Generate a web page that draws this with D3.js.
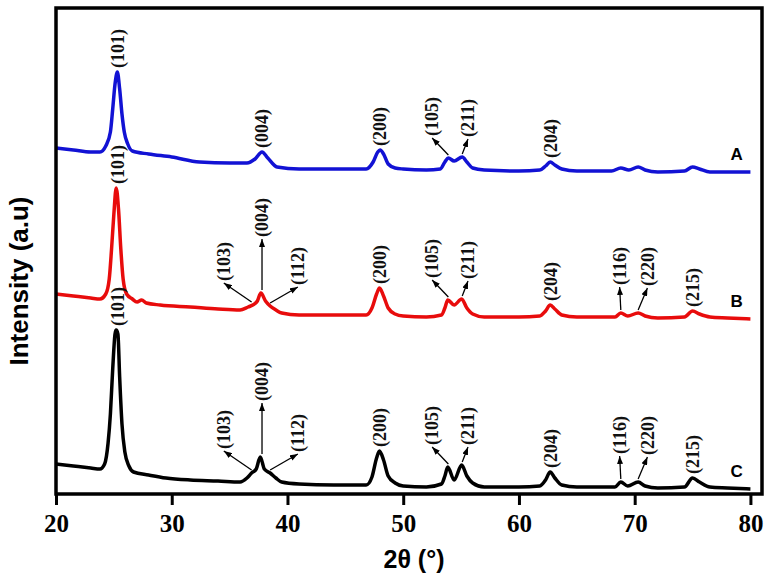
<!DOCTYPE html>
<html>
<head>
<meta charset="utf-8">
<script src="https://cdn.jsdelivr.net/npm/d3@7"></script>
<style>
body { margin: 0; background: #fff; }
svg { display: block; }
</style>
</head>
<body>
<svg id="chart" width="768" height="577"></svg>
<script>
// sample A (blue) - 2theta / intensity (a.u., offset stacked)
const thetaA = [20, 21.5, 23, 23.8, 24.3, 24.7, 24.9, 25.1, 25.3, 25.5, 25.7, 25.9, 26.2, 26.6, 28, 30, 32.4, 35, 36.5, 37.2, 37.8, 38.3, 39.1, 41, 44, 46.8, 47.4, 47.8, 48.0, 48.3, 48.7, 49.3, 50, 52, 53.2, 53.6, 53.9, 54.4, 55.1, 55.5, 56.0, 57, 60, 61.8, 62.3, 62.7, 63.1, 63.7, 65, 68, 68.8, 69.5, 70.3, 70.9, 72, 74.3, 75.0, 75.6, 76.5, 78, 80]
const intA = [346, 344, 342, 342, 348, 362, 385, 410, 422, 405, 380, 362, 350, 343, 340, 337, 332, 331, 331, 335, 342, 336, 327, 325, 325, 325, 332, 342, 344, 340, 330, 326, 325, 324, 325, 332, 336, 333, 337, 332, 326, 324, 323, 324, 328, 332, 329, 325, 323, 323, 326, 324, 327, 324, 322, 323, 327, 325, 322, 322, 322]

// sample B (red)
const thetaB = [20, 21.5, 23, 23.8, 24.3, 24.6, 24.8, 25.0, 25.2, 25.4, 25.6, 25.8, 26.1, 26.6, 27.0, 27.4, 27.8, 29, 31.6, 34, 35.9, 36.6, 37.0, 37.4, 37.7, 38.1, 38.5, 39.0, 39.5, 41, 44, 46.8, 47.3, 47.7, 47.95, 48.3, 48.7, 49.3, 50, 52, 53.3, 53.6, 53.85, 54.4, 55.05, 55.5, 56.0, 57, 60, 61.8, 62.3, 62.7, 63.1, 63.7, 65, 68.3, 68.8, 69.4, 70.3, 70.9, 72, 74.3, 75.0, 75.6, 76.5, 78, 80]
const intB = [200, 198, 196, 195, 200, 215, 245, 280, 306, 285, 245, 215, 200, 195, 192, 194, 191, 189, 187, 185, 184, 187, 189, 193, 201, 193, 188, 184, 181, 179, 179, 179, 186, 200, 206, 198, 186, 180, 178, 177, 179, 186, 194, 189, 195, 186, 180, 177, 177, 178, 183, 189, 185, 179, 177, 177, 181, 178, 181, 178, 176, 177, 183, 180, 177, 176, 175]

// sample C (black)
const thetaC = [20, 21.5, 23, 23.8, 24.2, 24.5, 24.7, 24.9, 25.1, 25.2, 25.35, 25.5, 25.7, 25.95, 26.3, 26.7, 28, 29.5, 31.6, 34, 35.9, 36.5, 36.9, 37.3, 37.65, 38.0, 38.5, 39.0, 39.5, 41, 44, 46.8, 47.3, 47.7, 47.95, 48.3, 48.7, 49.3, 50, 52, 53.3, 53.6, 53.85, 54.4, 55.05, 55.5, 56.0, 57, 60, 61.8, 62.3, 62.7, 63.1, 63.7, 65, 68.3, 68.8, 69.4, 70.3, 70.9, 72, 74.3, 75.0, 75.6, 76.5, 78, 80]
const intC = [30, 28, 26, 25, 30, 51, 80, 125, 160, 164, 160, 117, 70, 42, 28, 22, 19, 16, 14, 13, 12, 16, 21, 25, 37, 25, 21, 16, 12, 10, 9, 9, 17, 36, 43, 34, 18, 11, 8, 7, 10, 18, 27, 14, 29, 18, 11, 7, 7, 8, 14, 22, 16, 9, 7, 7, 12, 8, 12, 8, 6, 7, 16, 12, 7, 6, 5]

// anatase reflections
const hkl = ["(101)", "(103)", "(004)", "(112)", "(200)", "(105)", "(211)", "(204)", "(116)", "(220)", "(215)"]
const hklTheta = [25.3, 36.9, 37.8, 38.5, 48.0, 53.9, 55.1, 62.7, 68.8, 70.3, 75.0]

const labelsA = ["(101)", "(004)", "(200)", "(105)", "(211)", "(204)"]
const arrowsA = ["(105)", "(211)"]
const labelsB = hkl
const arrowsB = ["(103)", "(004)", "(112)", "(105)", "(211)", "(116)", "(220)"]
const labelsC = hkl
const arrowsC = ["(103)", "(004)", "(112)", "(105)", "(211)", "(116)", "(220)"]

const seriesNames = ["A", "B", "C"]
const seriesColors = ["#1212d4", "#e80c0c", "#000000"]

const xTicks = [20, 30, 40, 50, 60, 70, 80]

//layout
const W = 768, H = 577
const mLeft = 56, mRight = 762, mTop = 8, mBottom = 494

let svg = d3.select("#chart")
svg.append("rect").attr("width", W).attr("height", H).attr("fill", "#fff")

let x = d3.scaleLinear().domain([20, 81]).range([mLeft, mRight])
let y = d3.scaleLinear().domain([0, 486]).range([mBottom, mTop])

let series = [
  {name: seriesNames[0], t: thetaA, v: intA, labels: labelsA, arrows: arrowsA},
  {name: seriesNames[1], t: thetaB, v: intB, labels: labelsB, arrows: arrowsB},
  {name: seriesNames[2], t: thetaC, v: intC, labels: labelsC, arrows: arrowsC}
]

//label shift (deg) and lift above the peak (px) for arrowed labels
const arrowShift = {
  "(103)": [-2.4, 24], "(004)": [0, 56], "(112)": [2.4, 21],
  "(105)": [-1.4, 22], "(211)": [0.5, 20],
  "(116)": [-0.1, 28], "(220)": [0.8, 27]
}

//arrow head
svg.append("defs").append("marker")
  .attr("id", "head").attr("viewBox", "0 0 8 6")
  .attr("refX", 8).attr("refY", 3)
  .attr("markerWidth", 8).attr("markerHeight", 6)
  .attr("markerUnits", "userSpaceOnUse").attr("orient", "auto")
  .append("path").attr("d", "M0,0L8,3L0,6Z").attr("fill", "#000")

const line = d3.line().x(d => x(d[0])).y(d => y(d[1])).curve(d3.curveMonotoneX)

//highest point near a reflection
const peakVal = (s, th) => {
  let m = -Infinity
  s.t.forEach((t, i) => { if (Math.abs(t - th) <= 0.3) m = Math.max(m, s.v[i]) })
  return m
}

series.forEach((s, si) => {
  let pts = s.t.map((t, i) => [t, s.v[i]])
  svg.append("path").datum(pts)
    .attr("d", line)
    .attr("fill", "none")
    .attr("stroke", seriesColors[si])
    .attr("stroke-width", 3.5)
    .attr("stroke-linejoin", "round")

  let g = svg.append("g")
  s.labels.forEach(lab => {
    let th = hklTheta[hkl.indexOf(lab)]
    let py = y(peakVal(s, th))
    let px = x(th)
    let lx = px, ly = py - 4
    if (s.arrows.includes(lab)) {
      let sh = arrowShift[lab]
      lx = x(th + sh[0])
      ly = py - sh[1]
      g.append("line")
        .attr("x1", px).attr("y1", py - 3)
        .attr("x2", lx).attr("y2", ly + 2)
        .attr("stroke", "#000").attr("stroke-width", 1.3)
        .attr("marker-end", "url(#head)")
    }
    g.append("text")
      .attr("transform", `translate(${lx},${ly}) rotate(-90)`)
      .attr("dy", "0.35em")
      .attr("font-family", "'Liberation Serif', 'Times New Roman', serif")
      .attr("font-weight", "bold")
      .attr("font-size", 18)
      .attr("fill", "#111")
      .text(lab)
  })

  //sample letter
  svg.append("text")
    .attr("x", x(78.8))
    .attr("y", y(s.v[s.v.length - 1]) - 12)
    .attr("text-anchor", "middle")
    .attr("font-family", "'Liberation Sans', Arial, sans-serif")
    .attr("font-weight", "bold")
    .attr("font-size", 17)
    .text(s.name)
})

//x axis
let ax = svg.append("g")
  .attr("transform", `translate(0,${mBottom})`)
  .call(d3.axisBottom(x).tickValues(xTicks).tickSize(11).tickPadding(9).tickFormat(d3.format("d")))
ax.select(".domain").remove()
ax.selectAll(".tick line").attr("stroke", "#000").attr("stroke-width", 3)
ax.selectAll(".tick text")
  .attr("font-family", "'Liberation Serif', 'Times New Roman', serif")
  .attr("font-weight", "bold")
  .attr("font-size", 25)
  .attr("fill", "#000")

//frame
svg.append("rect")
  .attr("x", mLeft).attr("y", mTop)
  .attr("width", mRight - mLeft).attr("height", mBottom - mTop)
  .attr("fill", "none").attr("stroke", "#000").attr("stroke-width", 3.5)

//axis titles
svg.append("text")
  .attr("x", 414).attr("y", 568)
  .attr("text-anchor", "middle")
  .attr("font-family", "'Liberation Sans', Arial, sans-serif")
  .attr("font-weight", "bold").attr("font-size", 25)
  .text("2θ (°)")

svg.append("text")
  .attr("transform", "translate(28,281) rotate(-90)")
  .attr("text-anchor", "middle")
  .attr("font-family", "'Liberation Sans', Arial, sans-serif")
  .attr("font-weight", "bold").attr("font-size", 26)
  .text("Intensity (a.u)")
</script>
</body>
</html>
